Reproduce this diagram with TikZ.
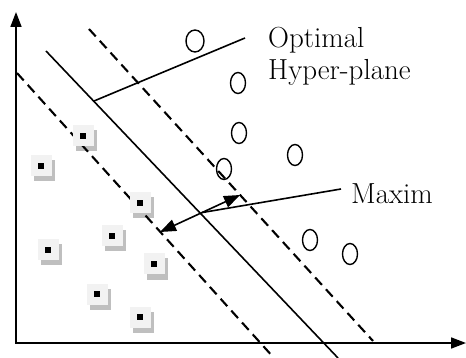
\documentclass[tikz,border=0pt]{standalone}
\usetikzlibrary{shapes.geometric,shadows,arrows.meta,calc}
\begin{document}
\begin{tikzpicture}[x=1pt,y=-1pt,
  axis/.style={line width=1.7pt,line join=miter,{Triangle[length=15pt,width=11pt]}-{Triangle[length=15pt,width=11pt]}},
  plane/.style={line width=1.6pt},
  margin/.style={line width=2.1pt,dash pattern=on 10pt off 6pt},
  lead/.style={line width=1.6pt},
  dbl/.style={line width=1.6pt,{Triangle[length=16pt,width=12pt]}-{Triangle[length=16pt,width=12pt]}},
  ptc/.style={ellipse,draw,line width=1.4pt,minimum width=15pt,minimum height=21pt,inner sep=0pt},
  pts/.style={rectangle,fill=black!5,minimum size=21pt,inner sep=0pt,
     general shadow={fill=black,opacity=0.25,shadow xshift=3pt,shadow yshift=-5pt},
     path picture={\fill[black] ([shift={(-3pt,-3pt)}]path picture bounding box.center) rectangle ++(6pt,6pt);}},
  lbl/.style={font=\fontsize{29}{32}\selectfont,inner sep=0pt,anchor=base west}]
\useasboundingbox (0,0) rectangle (466,358);
% axes
\coordinate (O) at (16,343);
\coordinate (ytip) at (16,12);
\coordinate (xtip) at (466,343);
\draw[axis] (ytip) -- (O) -- (xtip);
% hyperplane and margins
\coordinate (h1) at (46,51);
\coordinate (h2) at (338,358);
\coordinate (u1) at (89,29);
\coordinate (u2) at (373,341);
\coordinate (l1) at (17,73);
\coordinate (l2) at (274,358);
\draw[plane] (h1) -- (h2);
\draw[margin] (u1) -- (u2);
\draw[margin] (l1) -- (l2);
% circles
\node[ptc,minimum width=18pt,minimum height=22pt] (c1) at (195,41) {};
\node[ptc] (c2) at (238,83) {};
\node[ptc] (c3) at (239,133) {};
\node[ptc] (c4) at (224,169) {};
\node[ptc] (c5) at (295,155) {};
\node[ptc] (c6) at (310,240) {};
\node[ptc] (c7) at (350,254) {};
% squares
\node[pts] (sA) at (83,136) {};
\node[pts] (sB) at (41,166) {};
\node[pts] (sC) at (140,203) {};
\node[pts] (sD) at (112,236) {};
\node[pts] (sE) at (48,250) {};
\node[pts] (sF) at (154,264) {};
\node[pts] (sG) at (97,294) {};
\node[pts] (sH) at (140,317) {};
% labels
\node[lbl] (opt) at (268,48) {Optimal};
\node[lbl] (hyp) at (268,80) {Hyper-plane};
\node[lbl] (maxim) at (351,204) {Maxim};
% leaders
\coordinate (hp) at (94,101);
\coordinate (ol) at (245,38);
\draw[lead] (hp) -- (ol);
\coordinate (ma) at (240,195);
\coordinate (mb) at (160,232);
\coordinate (mf) at ($(mb)!0.525!(ma)$);
\coordinate (ml) at (341,189);
\draw[dbl] (mb) -- (ma);
\draw[lead] (ml) -- (mf);
\end{tikzpicture}
\end{document}
